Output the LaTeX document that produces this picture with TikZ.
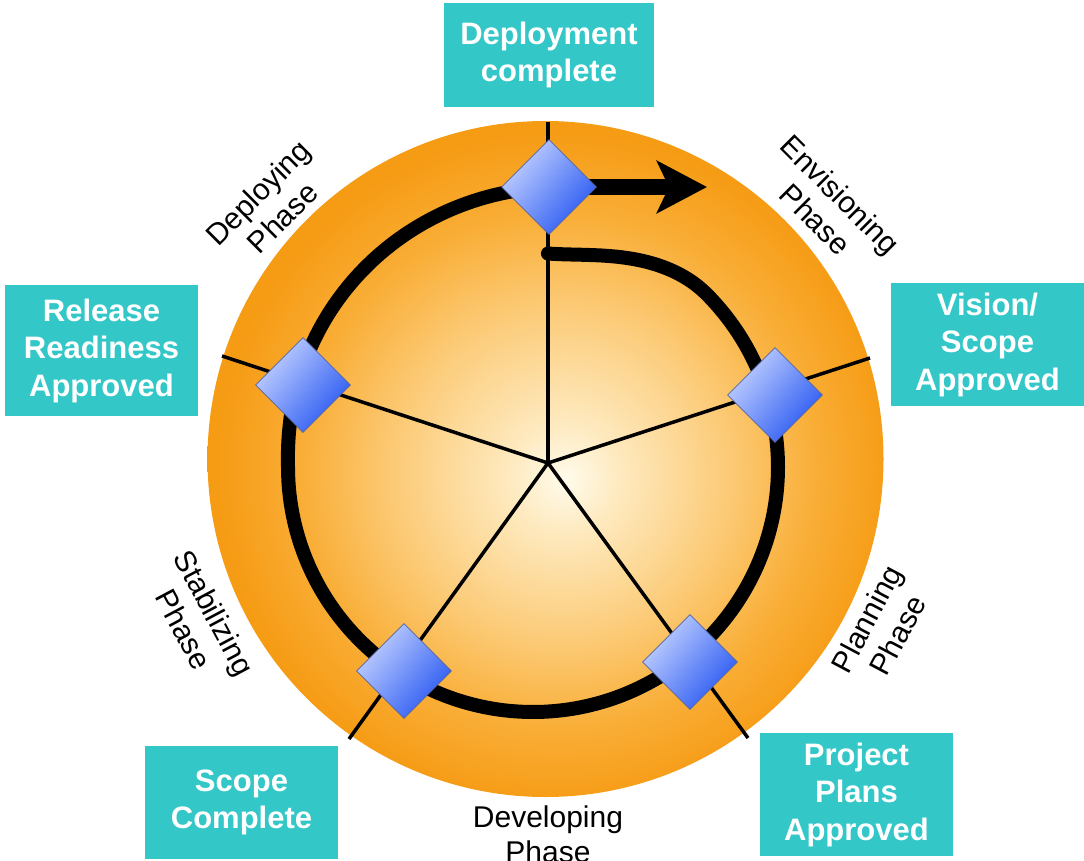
\documentclass[tikz,border=0pt]{standalone}
\usepackage{fontspec}
\setmainfont{Liberation Sans}
\usetikzlibrary{shapes.geometric,arrows.meta}
\definecolor{boxteal}{RGB}{51,199,200}
\definecolor{dlight}{RGB}{196,210,255}
\definecolor{ddark}{RGB}{40,88,242}
\definecolor{dborder}{RGB}{85,100,160}
\definecolor{orbA}{RGB}{255,251,236}
\definecolor{orbB}{RGB}{254,234,192}
\definecolor{orbC}{RGB}{252,204,122}
\definecolor{orbD}{RGB}{249,174,55}
\definecolor{orbE}{RGB}{246,155,20}
\pgfdeclareradialshading{orb}{\pgfpoint{1.5bp}{-1.5bp}}{color(0bp)=(orbA); color(4bp)=(orbB); color(12bp)=(orbC); color(19bp)=(orbD); color(25bp)=(orbE); color(50bp)=(orbE)}
\tikzset{
  milestone/.style={shape=diamond, minimum width=95pt, minimum height=95pt, inner sep=0pt,
    draw=dborder, line width=0.7pt, top color=dlight, bottom color=ddark, shading angle=50},
  mbox/.style={fill=boxteal, text=white, align=center, inner sep=0pt,
    font=\bfseries\fontsize{31}{37.5}\selectfont, minimum width=193pt},
  phase/.style={align=center, text=black, font=\fontsize{30}{35}\selectfont, inner sep=0pt},
  spoke/.style={line width=3.5pt, black},
  track/.style={line width=14pt, black, line cap=round, line join=round},
  declare function={sm(\u)=3*\u*\u-2*\u*\u*\u;
    rr(\t)=245-31*(1-sm(min(max((\t-4)/41,0),1)))+35*pow(max((\t-270)/93,0.0001),1.3);}
}
\begin{document}
\begin{tikzpicture}[x=1pt,y=-1pt]
\useasboundingbox (0,0) rectangle (1084,861);
% disc
\node[circle, minimum size=676pt, inner sep=0pt, shade, shading=orb] (disc) at (545.5,459) {};
% spokes
\coordinate (hub) at (548,463);
\coordinate (s1) at (548,122);
\coordinate (s2) at (870,358);
\coordinate (s3) at (748,738);
\coordinate (s4) at (349,739);
\coordinate (s5) at (222,356);
\foreach \s in {s1,s2,s3,s4,s5} \draw[spoke] (hub) -- (\s);
% spiral track
\coordinate (finish) at (549,187);
\draw[track] plot[domain=4:363.3, samples=160, smooth, variable=\t]
  ({533+rr(\t)*sin(\t)},{467-rr(\t)*cos(\t)});
% arrow
\coordinate (tip) at (707,187);
\draw[line width=16pt, -{Stealth[length=50pt,width=52pt,inset=12pt]}] (finish) -- (tip);
% milestones
\node[milestone] (m1) at (finish) {};
\node[milestone] (m2) at (775,395) {};
\node[milestone] (m3) at (690,662) {};
\node[milestone] (m4) at (404,671) {};
\node[milestone] (m5) at (303,385) {};
% boxes
\node[mbox, minimum width=210pt, minimum height=104pt] (b1) at (549,55) {Deployment\\complete};
\node[mbox, minimum height=123pt] (b2) at (987.5,344.5) {Vision/\\Scope\\Approved};
\node[mbox, minimum height=123pt] (b3) at (856.5,794.5) {Project\\Plans\\Approved};
\node[mbox, minimum height=113pt] (b4) at (241.5,802.5) {Scope\\Complete};
\node[mbox, minimum height=131pt] (b5) at (101.5,350.5) {Release\\Readiness\\Approved};
% phases
\node[phase, rotate=-45] (p1) at (828,207) {Envisioning\\Phase};
\node[phase, rotate=62] (p2) at (882,627) {Planning\\Phase};
\node[phase] (p3) at (548,834) {Developing\\Phase};
\node[phase, rotate=-62] (p4) at (199,621) {Stabilizing\\Phase};
\node[phase, rotate=45] (p5) at (270,205) {Deploying\\Phase};
\end{tikzpicture}
\end{document}
